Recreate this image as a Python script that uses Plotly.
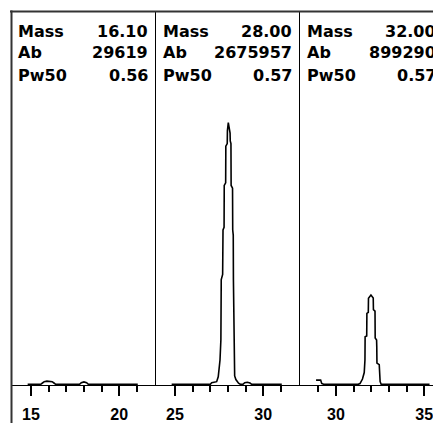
import plotly.graph_objects as go

# ---------------- data ----------------
# relative intensity, % of the m/z 28 peak height
p1_mass = [14.81, 15.55, 15.65, 15.75, 15.90, 16.05, 16.20, 16.30, 16.40,
           17.75, 17.85, 18.00, 18.15, 18.25, 21.05]
p1_int = [0, 0, 0.5, 1.0, 1.2, 1.2, 1.0, 0.5, 0,
          0, 0.6, 0.9, 0.6, 0, 0]

p2_mass = [24.81, 27.00, 27.08, 27.36, 27.45, 27.55, 27.60, 27.62, 27.70, 27.72,
           27.78, 27.79, 27.87, 27.88, 27.96, 27.97, 28.02, 28.08, 28.12, 28.13,
           28.17, 28.18, 28.26, 28.27, 28.30, 28.31, 28.34, 28.38, 28.45, 28.53,
           28.60, 28.70, 28.85, 28.95, 29.10, 29.25, 29.35, 31.05]
p2_int = [0, 0, 0.6, 1.0, 2.9, 9.3, 17, 40, 42, 59,
          60, 76, 77, 91, 92, 97, 100, 97, 96, 93,
          92, 76, 75, 59, 57, 40, 17, 3.2, 1.8, 1.0,
          0.4, 0, 0, 0.6, 0.8, 0.5, 0, 0]

p3_mass = [28.87, 29.13, 29.19, 29.30, 31.26, 31.36, 31.50, 31.60, 31.64, 31.65,
           31.74, 31.75, 31.83, 31.84, 31.98, 32.11, 32.12, 32.21, 32.22, 32.30,
           32.31, 32.32, 32.45, 32.50, 32.56, 35.30]
p3_int = [1.6, 1.6, 0.3, 0, 0, 0.3, 2.0, 4.5, 9.3, 18.2,
          18.5, 27.1, 27.5, 32.9, 34.1, 33.0, 28.5, 28.0, 17.7, 16.9,
          14.4, 8.1, 7.5, 1.0, 0, 0]

panel_mass = ["16.10", "28.00", "32.00"]
panel_ab = ["29619", "2675957", "899290"]
panel_pw50 = ["0.56", "0.57", "0.57"]
row_labels = ["Mass", "Ab", "Pw50"]

major_ticks = [[15, 20], [25, 30], [30, 35]]
minor_ticks = [[16, 17, 18, 19, 21], [26, 27, 28, 29, 31], [29, 31, 32, 33, 34]]

# ---------------- layout geometry ----------------
W, H = 433, 423
PPU = 17.65                     # pixels per mass unit
panel_px = [(11, 155.5), (155.5, 299.5), (299.5, 433)]
anchor_px = [(15, 31), (25, 175), (30, 336)]   # (mass value, pixel x)
top_px, axis_px = 11, 385
peak_top_px, base_px = 122.7, 384.3

def px_x(p):
    return p / W

def px_y(p):
    return 1 - p / H

scale = (base_px - peak_top_px) / 100.0
y_min = -(axis_px - base_px) / scale
y_max = y_min + (axis_px - top_px) / scale

fig = go.Figure()
series = [(p1_mass, p1_int), (p2_mass, p2_int), (p3_mass, p3_int)]
for i, (mx, iy) in enumerate(series):
    sfx = "" if i == 0 else str(i + 1)
    fig.add_trace(go.Scatter(x=mx, y=iy, mode="lines",
                             line=dict(color="black", width=1.6),
                             xaxis="x" + sfx, yaxis="y" + sfx,
                             showlegend=False, hoverinfo="skip"))

axes = {}
for i in range(3):
    sfx = "" if i == 0 else str(i + 1)
    l, r = panel_px[i]
    mv, mp = anchor_px[i]
    x0 = mv - (mp - l) / PPU
    x1 = mv + (r - mp) / PPU
    axes["xaxis" + sfx] = dict(
        domain=[px_x(l), px_x(r)], range=[x0, x1], anchor="y" + sfx,
        tickmode="array", tickvals=major_ticks[i],
        ticks="outside", ticklen=10, tickwidth=2, tickcolor="black",
        showline=True, linecolor="black", linewidth=1,
        showgrid=False, zeroline=False, ticklabelstandoff=5,
        ticklabeloverflow="allow",
        tickfont=dict(family="Liberation Sans", size=16, color="black", weight="bold"),
        minor=dict(tickmode="array", tickvals=minor_ticks[i], ticks="outside",
                   ticklen=6, tickwidth=2, tickcolor="black", showgrid=False),
        fixedrange=True,
    )
    axes["yaxis" + sfx] = dict(
        domain=[px_y(axis_px), px_y(top_px)], range=[y_min, y_max],
        anchor="x" + sfx, showticklabels=False, ticks="", showgrid=False,
        zeroline=False, showline=(i > 0), linecolor="black", linewidth=1,
        fixedrange=True,
    )

annotations = []
rows_mid = [31.2, 52.8, 75.0]
for i in range(3):
    l, r = panel_px[i]
    r_full = l + 144
    vals = [panel_mass[i], panel_ab[i], panel_pw50[i]]
    for k in range(3):
        annotations.append(dict(
            text=row_labels[k], x=px_x(l + 6), y=px_y(rows_mid[k]),
            xref="paper", yref="paper", xanchor="left", yanchor="middle",
            showarrow=False, borderpad=0,
            font=dict(family="DejaVu Sans", size=16, color="black", weight="bold")))
        annotations.append(dict(
            text=vals[k], x=px_x(r_full - 6.5), y=px_y(rows_mid[k]),
            xref="paper", yref="paper", xanchor="right", yanchor="middle",
            showarrow=False, borderpad=0,
            font=dict(family="DejaVu Sans", size=16, color="black", weight="bold")))

shapes = [
    dict(type="line", xref="paper", yref="paper",
         x0=px_x(10), x1=1.0, y0=px_y(11.5), y1=px_y(11.5),
         line=dict(color="#333333", width=2)),
    dict(type="line", xref="paper", yref="paper",
         x0=px_x(11.5), x1=px_x(11.5), y0=0, y1=px_y(10.5),
         line=dict(color="#333333", width=2)),
]

fig.update_layout(
    width=W, height=H, margin=dict(l=0, r=0, t=0, b=0),
    paper_bgcolor="white", plot_bgcolor="white",
    showlegend=False, annotations=annotations, shapes=shapes,
    **axes,
)

fig.write_html("out.html", config={"displayModeBar": False},
               post_script="document.body.style.margin='0';document.body.style.overflow='hidden';")
